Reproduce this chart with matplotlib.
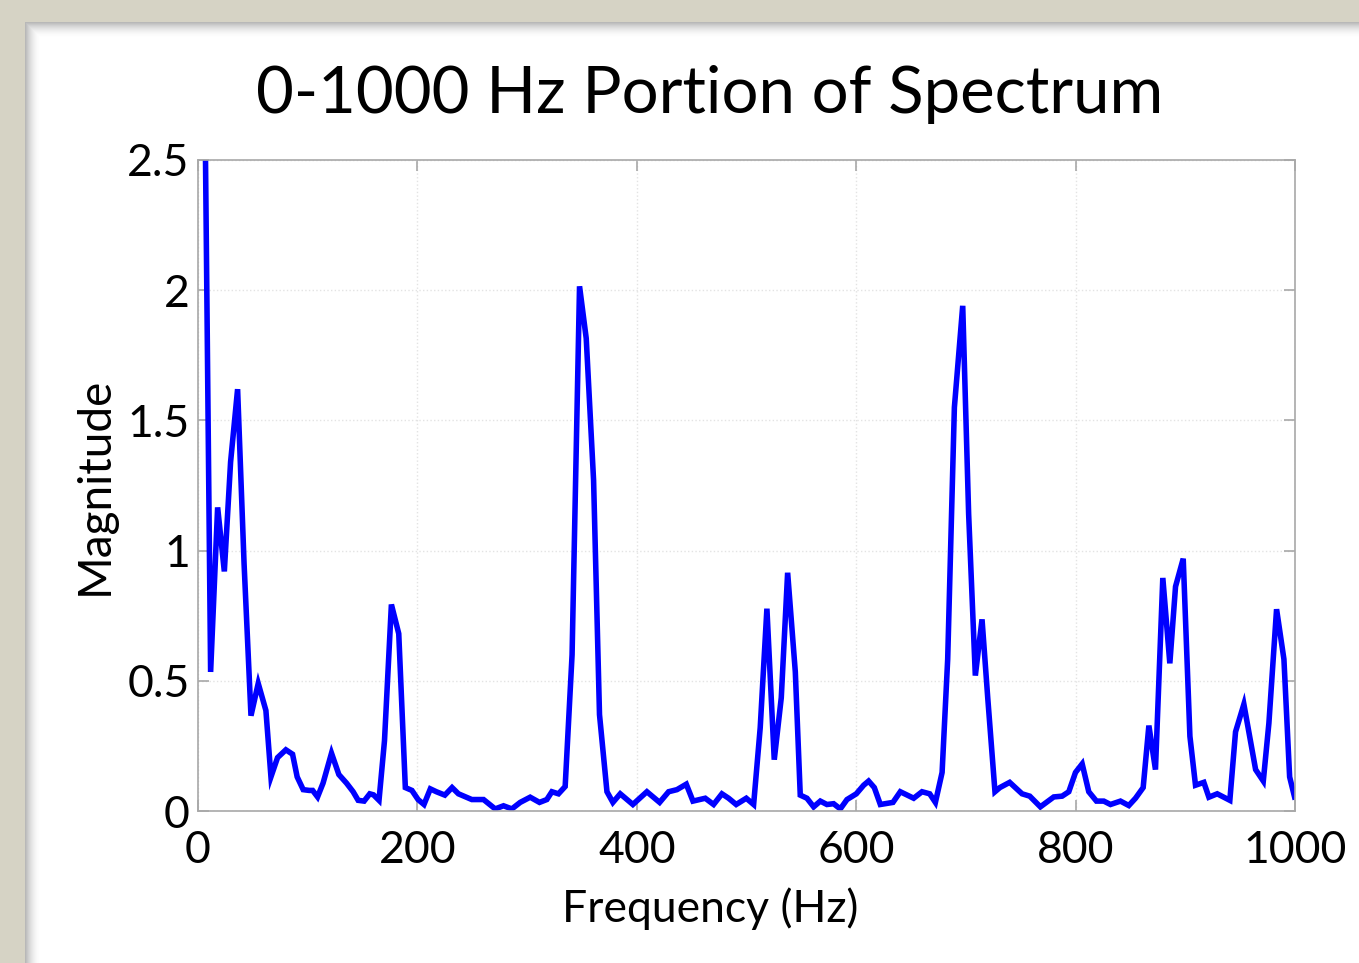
import numpy as np
import matplotlib
matplotlib.use('Agg')
import matplotlib.pyplot as plt
from matplotlib.patches import Rectangle

plt.rcParams['font.family'] = ['Lato', 'DejaVu Sans']

# values
freq = [5.9, 11.5, 17.9, 24.0, 29.7, 36.1, 42.0, 48.3, 54.9, 61.9, 66.5, 72.5, 80.1,
        86.2, 90.4, 95.9, 101.4, 104.5, 109.0, 114.0, 121.7, 128.4, 135.4, 141.4,
        146.0, 151.4, 156.6, 160.0, 165.0, 170.0, 176.3, 183.0, 189.0, 195.0,
        200.6, 206.0, 211.8, 217.3, 225.0, 231.6, 237.4, 249.6, 260.3, 270.9,
        278.5, 286.1, 293.7, 302.8, 311.3, 318.0, 322.6, 328.6, 334.7, 341.0,
        347.8, 353.9, 360.6, 366.0, 372.8, 378.2, 384.9, 396.4, 409.2, 420.8,
        429.0, 436.6, 445.1, 451.2, 462.4, 470.0, 477.6, 483.7, 490.6, 499.8,
        506.5, 512.5, 518.6, 525.3, 531.7, 537.5, 544.5, 549.0, 555.1, 561.2,
        567.3, 573.3, 579.4, 585.5, 591.6, 600.1, 606.8, 611.3, 616.5, 622.0,
        633.5, 640.2, 652.4, 660.0, 667.0, 672.2, 678.3, 683.4, 689.5, 697.1,
        702.5, 708.6, 714.7, 719.9, 726.5, 731.0, 739.9, 751.2, 758.2, 767.9,
        780.1, 787.7, 793.8, 799.9, 806.0, 812.0, 819.0, 825.7, 831.8, 840.9,
        848.5, 854.6, 861.6, 866.8, 872.8, 879.5, 885.9, 891.1, 898.1, 904.2,
        909.3, 916.9, 921.5, 929.1, 940.6, 945.8, 953.4, 964.1, 971.1, 976.2,
        983.2, 989.9, 995.1, 999.6]
magnitude = [2.9, 0.534, 1.166, 0.92, 1.34, 1.62, 0.95, 0.366, 0.49, 0.386, 0.131,
             0.205, 0.235, 0.218, 0.131, 0.082, 0.079, 0.079, 0.054, 0.107, 0.222,
             0.14, 0.107, 0.074, 0.041, 0.038, 0.066, 0.062, 0.041, 0.27, 0.793,
             0.681, 0.09, 0.079, 0.044, 0.025, 0.085, 0.074, 0.061, 0.09, 0.066,
             0.044, 0.044, 0.008, 0.02, 0.008, 0.033, 0.053, 0.033, 0.044, 0.074,
             0.066, 0.094, 0.6, 2.015, 1.815, 1.27, 0.37, 0.074, 0.033, 0.066,
             0.025, 0.074, 0.033, 0.074, 0.082, 0.103, 0.038, 0.049, 0.025, 0.066,
             0.049, 0.025, 0.049, 0.025, 0.32, 0.777, 0.197, 0.435, 0.915, 0.534,
             0.061, 0.049, 0.016, 0.038, 0.025, 0.028, 0.008, 0.044, 0.066, 0.099,
             0.115, 0.09, 0.025, 0.033, 0.074, 0.049, 0.074, 0.066, 0.033, 0.148,
             0.583, 1.55, 1.94, 1.14, 0.52, 0.736, 0.435, 0.074, 0.09, 0.11, 0.066,
             0.057, 0.016, 0.054, 0.057, 0.074, 0.148, 0.181, 0.074, 0.038, 0.038,
             0.025, 0.038, 0.021, 0.049, 0.09, 0.328, 0.159, 0.895, 0.567, 0.862,
             0.969, 0.287, 0.099, 0.11, 0.053, 0.066, 0.041, 0.304, 0.41, 0.159,
             0.115, 0.337, 0.775, 0.583, 0.131, 0.054]

x_ticks = [0, 200, 400, 600, 800, 1000]
y_ticks = [0, 0.5, 1, 1.5, 2, 2.5]
y_tick_labels = ['0', '0.5', '1', '1.5', '2', '2.5']

W, H = 1359, 963
fig = plt.figure(figsize=(W / 100, H / 100), dpi=100, facecolor='#d6d3c5')

# slide area with soft shadow on its top/left edges
x0 = 25 / W
top = 1 - 22 / H
fig.patches.append(Rectangle((x0, 0), 1 - x0, top, transform=fig.transFigure,
                             facecolor='white', edgecolor='none', zorder=-3))
n = 16
for k in range(n):
    a = 0.28 * (1 - k / n) ** 2
    fig.patches.append(Rectangle((x0 + k / W, 0), 1 / W, top - k / H,
                                 transform=fig.transFigure, facecolor='black',
                                 alpha=a, edgecolor='none', zorder=-2))
    fig.patches.append(Rectangle((x0 + (k + 1) / W, top - (k + 1) / H), 1 - x0 - (k + 1) / W, 1 / H,
                                 transform=fig.transFigure, facecolor='black',
                                 alpha=a, edgecolor='none', zorder=-2))

ax = fig.add_axes([198 / W, 1 - 811 / H, (1295 - 198) / W, (811 - 160) / H])
ax.set_zorder(2)
ax.plot(freq, magnitude, color='#0000ff', linewidth=4, solid_joinstyle='miter')
ax.set_xlim(0, 1000)
ax.set_ylim(0, 2.5)
ax.set_xticks(x_ticks)
ax.set_yticks(y_ticks)
ax.set_yticklabels(y_tick_labels)
ax.grid(True, color='#e3e3e3', linewidth=1, linestyle=':')
ax.set_axisbelow(True)
for s in ax.spines.values():
    s.set_color('#a8a8a8')
    s.set_linewidth(1.2)
ax.tick_params(direction='in', length=8, width=1.2, color='#a8a8a8', labelsize=32,
               top=True, right=True, labelcolor='black')
ax.tick_params(axis='x', pad=14)
ax.tick_params(axis='y', pad=6)

# title and x label sit a bit left of the axes centre in the original
mid = (710 - 198) / (1295 - 198)
ax.set_title('0-1000 Hz Portion of Spectrum', fontsize=47, pad=34, x=mid)
ax.set_xlabel('Frequency (Hz)', fontsize=32, labelpad=10)
ax.xaxis.set_label_coords(mid, -0.118)
ax.set_ylabel('Magnitude', fontsize=33, labelpad=8)

fig.savefig('out.png', dpi=100, facecolor=fig.get_facecolor())
